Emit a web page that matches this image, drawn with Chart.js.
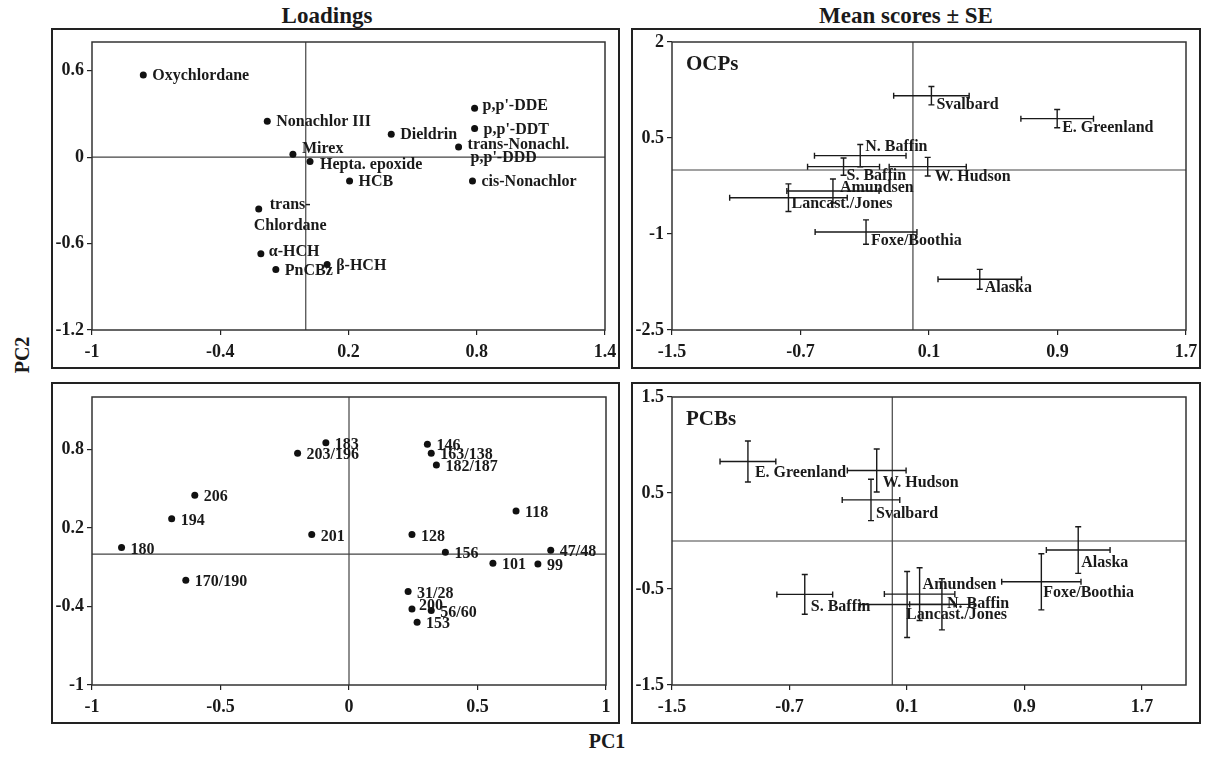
<!DOCTYPE html>
<html>
<head>
<meta charset="utf-8">
<script src="https://cdn.jsdelivr.net/npm/chart.js@4.4.0/dist/chart.umd.min.js"></script>
<style>
  body { margin: 0; background: #fff; }
  #wrap { position: relative; width: 1207px; height: 767px; font-family: "Liberation Serif", serif; font-weight: bold; color: #1a1a1a; }
  .panel { position: absolute; }
  .txt { position: absolute; white-space: nowrap; transform: translate(-50%, -50%); }
</style>
</head>
<body>
<div id="wrap">
  <div class="txt" style="left:327px;top:16px;font-size:23px">Loadings</div>
  <div class="txt" style="left:906px;top:16px;font-size:23px">Mean scores ± SE</div>
  <div class="txt" style="left:22px;top:355px;font-size:20px;transform:translate(-50%,-50%) rotate(-90deg)">PC2</div>
  <div class="txt" style="left:607px;top:741px;font-size:20px">PC1</div>

  <div class="panel" style="left:51px;top:28px"><canvas id="ocpLoad" width="569" height="341"></canvas></div>
  <div class="panel" style="left:631px;top:28px"><canvas id="ocpMean" width="570" height="341"></canvas></div>
  <div class="panel" style="left:51px;top:382px"><canvas id="pcbLoad" width="569" height="342"></canvas></div>
  <div class="panel" style="left:631px;top:382px"><canvas id="pcbMean" width="570" height="342"></canvas></div>
</div>

<script>
// --- Data ---

// OCP loadings (top left)
const ocpNames = ['Oxychlordane', 'Nonachlor III', 'Mirex', 'Hepta. epoxide', 'trans-|Chlordane', 'α-HCH', 'PnCBz',
    'β-HCH', 'Dieldrin', 'HCB', "p,p'-DDE", "p,p'-DDT", "trans-Nonachl.|p,p'-DDD", 'cis-Nonachlor'];
const ocpPC1 = [-0.76, -0.18, -0.06, 0.02, -0.22, -0.21, -0.14, 0.10, 0.40, 0.205, 0.79, 0.79, 0.715, 0.78];
const ocpPC2 = [0.57, 0.25, 0.02, -0.03, -0.36, -0.67, -0.78, -0.745, 0.16, -0.165, 0.34, 0.20, 0.07, -0.165];

// PCB loadings (bottom left)
const pcbNames = ['180', '194', '206', '170/190', '203/196', '183', '201', '146', '163/138', '182/187',
    '118', '128', '156', '47/48', '101', '99', '31/28', '200', '56/60', '153'];
const pcbPC1 = [-0.885, -0.69, -0.60, -0.635, -0.20, -0.09, -0.145, 0.305, 0.32, 0.34,
    0.65, 0.245, 0.375, 0.785, 0.56, 0.735, 0.23, 0.245, 0.32, 0.265];
const pcbPC2 = [0.05, 0.27, 0.45, -0.20, 0.77, 0.85, 0.15, 0.84, 0.77, 0.68,
    0.33, 0.15, 0.015, 0.03, -0.07, -0.075, -0.285, -0.42, -0.43, -0.52];

// Mean scores +- SE, OCPs (top right)
const ocpSites = ['Svalbard', 'E. Greenland', 'N. Baffin', 'S. Baffin', 'W. Hudson', 'Amundsen',
    'Lancast./Jones', 'Foxe/Boothia', 'Alaska'];
const ocpMeanPC1 = [0.115, 0.898, -0.328, -0.432, 0.092, -0.498, -0.775, -0.292, 0.416];
const ocpMeanPC2 = [1.161, 0.802, 0.224, 0.052, 0.052, -0.328, -0.433, -0.969, -1.708];
const ocpSE1 = [0.235, 0.226, 0.285, 0.224, 0.24, 0.287, 0.366, 0.317, 0.26];
const ocpSE2 = [0.144, 0.143, 0.175, 0.135, 0.146, 0.188, 0.216, 0.19, 0.156];

// Mean scores +- SE, PCBs (bottom right)
const pcbSites = ['E. Greenland', 'W. Hudson', 'Svalbard', 'S. Baffin', 'Amundsen', 'N. Baffin',
    'Lancast./Jones', 'Alaska', 'Foxe/Boothia'];
const pcbMeanPC1 = [-0.983, -0.106, -0.145, -0.596, 0.186, 0.338, 0.101, 1.266, 1.015];
const pcbMeanPC2 = [0.828, 0.734, 0.428, -0.556, -0.553, -0.66, -0.661, -0.094, -0.425];
const pcbSE1 = [0.19, 0.2, 0.196, 0.19, 0.24, 0.22, 0.32, 0.217, 0.27];
const pcbSE2 = [0.214, 0.224, 0.216, 0.207, 0.275, 0.266, 0.344, 0.243, 0.292];

// Axis ticks
const ocpLoadXTicks = [-1, -0.4, 0.2, 0.8, 1.4];
const ocpLoadYTicks = [-1.2, -0.6, 0, 0.6];
const pcbLoadXTicks = [-1, -0.5, 0, 0.5, 1];
const pcbLoadYTicks = [-1, -0.4, 0.2, 0.8];
const meanXTicks = [-1.5, -0.7, 0.1, 0.9, 1.7];
const ocpMeanYTicks = [-2.5, -1, 0.5, 2];
const pcbMeanYTicks = [-1.5, -0.5, 0.5, 1.5];

// label nudges [dx, dy] per text line (default used when missing)
const nudges = {
    'Mirex': [[9, -5]],
    'Hepta. epoxide': [[10, 3]],
    'trans-|Chlordane': [[11, -4], [-5, 17]],
    "trans-Nonachl.|p,p'-DDD": [[9, -2], [12, 11]],
    'α-HCH': [[8, -2]],
    "p,p'-DDE": [[8, -2]],
    '200': [[7, -3]]
};
const ocpMeanNudges = {
    'N. Baffin': [[5, -9]], 'Amundsen': [[7, -3]], 'Lancast./Jones': [[3, 6]],
    'W. Hudson': [[7, 10]], 'S. Baffin': [[3, 9]]
};
const pcbMeanNudges = {
    'Amundsen': [[3, -9]], 'N. Baffin': [[5, -1]], 'Lancast./Jones': [[-1, 10]],
    'Svalbard': [[5, 14]], 'E. Greenland': [[7, 11]], 'Alaska': [[3, 13]], 'Foxe/Boothia': [[2, 11]]
};

// --- Plugins ---

const frames = {
    id: 'frames',
    beforeDatasetsDraw(chart) {
        const { ctx, chartArea: a, scales: { x, y } } = chart;
        ctx.save();
        ctx.strokeStyle = '#222';
        ctx.lineWidth = 2;
        ctx.strokeRect(1, 1, chart.width - 2, chart.height - 2);
        // zero lines
        const x0 = x.getPixelForValue(0), y0 = y.getPixelForValue(0);
        ctx.strokeStyle = '#444';
        ctx.lineWidth = 1.2;
        ctx.beginPath();
        ctx.moveTo(x0, a.top); ctx.lineTo(x0, a.bottom);
        ctx.moveTo(a.left, y0); ctx.lineTo(a.right, y0);
        ctx.stroke();
        // plot box
        ctx.strokeStyle = '#333';
        ctx.lineWidth = 1.5;
        ctx.strokeRect(a.left, a.top, a.right - a.left, a.bottom - a.top);
        ctx.restore();
    }
};

const errorBars = {
    id: 'errorBars',
    afterDatasetsDraw(chart) {
        const ds = chart.data.datasets[0];
        if (!ds.errX) return;
        const { ctx, scales: { x, y } } = chart;
        const cap = 3;
        ctx.save();
        ctx.strokeStyle = '#1a1a1a';
        ctx.lineWidth = 1.4;
        ds.data.forEach((p, i) => {
            const px = x.getPixelForValue(p.x), py = y.getPixelForValue(p.y);
            const xl = x.getPixelForValue(p.x - ds.errX[i]), xr = x.getPixelForValue(p.x + ds.errX[i]);
            const yt = y.getPixelForValue(p.y + ds.errY[i]), yb = y.getPixelForValue(p.y - ds.errY[i]);
            ctx.beginPath();
            ctx.moveTo(xl, py); ctx.lineTo(xr, py);
            ctx.moveTo(xl, py - cap); ctx.lineTo(xl, py + cap);
            ctx.moveTo(xr, py - cap); ctx.lineTo(xr, py + cap);
            ctx.moveTo(px, yt); ctx.lineTo(px, yb);
            ctx.moveTo(px - cap, yt); ctx.lineTo(px + cap, yt);
            ctx.moveTo(px - cap, yb); ctx.lineTo(px + cap, yb);
            ctx.stroke();
        });
        ctx.restore();
    }
};

const pointLabels = {
    id: 'pointLabels',
    afterDatasetsDraw(chart) {
        const ds = chart.data.datasets[0];
        const meta = chart.getDatasetMeta(0);
        const { ctx, chartArea: a } = chart;
        ctx.save();
        ctx.fillStyle = '#1a1a1a';
        ctx.textAlign = 'left';
        ctx.textBaseline = 'middle';
        ctx.font = 'bold 16px "Liberation Serif"';
        ds.names.forEach((name, i) => {
            const el = meta.data[i];
            const shift = (ds.nudges && ds.nudges[name]) || [];
            name.split('|').forEach((line, k) => {
                const [dx, dy] = shift[k] || [ds.nudge[0], ds.nudge[1] + k * 17];
                ctx.fillText(line, el.x + dx, el.y + dy);
            });
        });
        if (ds.tag) {
            ctx.font = 'bold 21px "Liberation Serif"';
            ctx.fillText(ds.tag, a.left + 14, a.top + 23);
        }
        ctx.restore();
    }
};

// --- Chart setup ---

Chart.defaults.font.family = '"Liberation Serif", serif';
Chart.defaults.font.weight = 'bold';
Chart.defaults.font.size = 18;
Chart.defaults.color = '#1a1a1a';

function axis(min, max, ticks, size, isX) {
    return {
        type: 'linear',
        min: min,
        max: max,
        afterBuildTicks: s => { s.ticks = ticks.map(v => ({ value: v })); },
        afterFit: s => {
            // fixed axis size, and no extra room for overhanging edge labels
            if (isX) { s.height = size; s.paddingLeft = 0; s.paddingRight = 0; }
            else { s.width = size; s.paddingTop = 0; s.paddingBottom = 0; }
        },
        grid: { drawOnChartArea: false, drawTicks: true, tickLength: 5, color: '#222', lineWidth: 1.2 },
        border: { display: false },
        ticks: { autoSkip: false, maxRotation: 0, padding: isX ? 7 : 3, callback: v => String(v) }
    };
}

function makePanel(id, dataset, xs, ys, top, right) {
    const canvas = document.getElementById(id);
    const xHeight = canvas.height - top - 288;
    return new Chart(canvas, {
        type: 'scatter',
        data: { datasets: [dataset] },
        options: {
            responsive: false,
            animation: false,
            layout: { padding: { top: top, right: right, left: 0, bottom: 0 } },
            scales: {
                x: axis(xs[0], xs[1], xs[2], xHeight, true),
                y: axis(ys[0], ys[1], ys[2], 41, false)
            },
            plugins: { legend: { display: false }, tooltip: { enabled: false } }
        },
        plugins: [frames, errorBars, pointLabels]
    });
}

function points(xv, yv) {
    return xv.map((x, i) => ({ x: x, y: yv[i] }));
}

makePanel('ocpLoad', {
    data: points(ocpPC1, ocpPC2),
    names: ocpNames, nudge: [9, 1], nudges: nudges,
    pointRadius: 3.5, pointBackgroundColor: '#111', pointBorderWidth: 0
}, [-1, 1.4, ocpLoadXTicks], [-1.2, 0.8, ocpLoadYTicks], 14, 15);

makePanel('ocpMean', {
    data: points(ocpMeanPC1, ocpMeanPC2),
    errX: ocpSE1, errY: ocpSE2,
    names: ocpSites, nudge: [5, 9], nudges: ocpMeanNudges, tag: 'OCPs',
    pointRadius: 0
}, [-1.5, 1.7, meanXTicks], [-2.5, 2, ocpMeanYTicks], 14, 15);

makePanel('pcbLoad', {
    data: points(pcbPC1, pcbPC2),
    names: pcbNames, nudge: [9, 2], nudges: nudges,
    pointRadius: 3.5, pointBackgroundColor: '#111', pointBorderWidth: 0
}, [-1, 1, pcbLoadXTicks], [-1, 1.2, pcbLoadYTicks], 15, 14);

makePanel('pcbMean', {
    data: points(pcbMeanPC1, pcbMeanPC2),
    errX: pcbSE1, errY: pcbSE2,
    names: pcbSites, nudge: [6, 12], nudges: pcbMeanNudges, tag: 'PCBs',
    pointRadius: 0
}, [-1.5, 2, meanXTicks], [-1.5, 1.5, pcbMeanYTicks], 15, 15);
</script>
</body>
</html>
